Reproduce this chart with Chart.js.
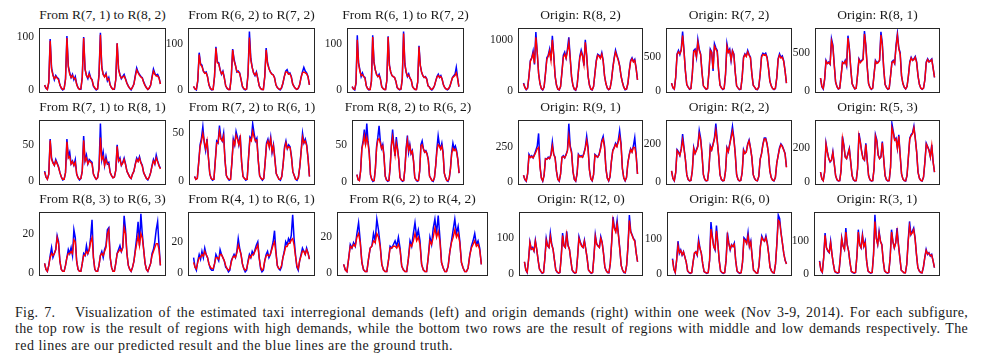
<!DOCTYPE html>
<html>
<head>
<meta charset="utf-8">
<script src="https://cdn.jsdelivr.net/npm/chart.js@4.4.1/dist/chart.umd.min.js"></script>
<style>
  body { margin: 0; background: #fff; width: 982px; height: 359px; position: relative; overflow: hidden; font-family: "Liberation Serif", "Times New Roman", serif; color: #1a1a1a; }
  .panel { position: absolute; }
  .ttl { position: absolute; font-size: 13.5px; line-height: 14px; text-align: center; white-space: nowrap; }
  .cap { position: absolute; left: 15px; width: 953px; font-size: 14px; letter-spacing: 0.5px; line-height: 17px; white-space: nowrap; }
  .cap.j { white-space: normal; text-align: justify; text-align-last: justify; letter-spacing: 0.3px; }
</style>
</head>
<body>
<div class="cap j" style="top:303.5px">Fig. 7.&emsp; Visualization of the estimated taxi interregional demands (left) and origin demands (right) within one week (Nov 3-9, 2014). For each subfigure,</div>
<div class="cap j" style="top:320px">the top row is the result of regions with high demands, while the bottom two rows are the result of regions with middle and low demands respectively. The</div>
<div class="cap" style="top:336.5px">red lines are our predicted result and the blue lines are the ground truth.</div>

<script>
// one week, Nov 3-9 2014, sampled every 2 hours (12 values per day)
const titles = [
  'From R(7, 1) to R(8, 2)', 'From R(6, 2) to R(7, 2)', 'From R(6, 1) to R(7, 2)',
  'Origin: R(8, 2)', 'Origin: R(7, 2)', 'Origin: R(8, 1)',
  'From R(7, 1) to R(8, 1)', 'From R(7, 2) to R(6, 1)', 'From R(8, 2) to R(6, 2)',
  'Origin: R(9, 1)', 'Origin: R(2, 2)', 'Origin: R(5, 3)',
  'From R(8, 3) to R(6, 3)', 'From R(4, 1) to R(6, 1)', 'From R(6, 2) to R(4, 2)',
  'Origin: R(12, 0)', 'Origin: R(6, 0)', 'Origin: R(3, 1)'
];

const yTicks = [
  [0, 100], [0, 100], [0, 100], [0, 1000], [0, 500], [0, 500],
  [0, 50], [0, 50], [0, 50], [0, 250], [0, 200], [0, 200],
  [0, 20], [0, 20], [0, 20], [0, 100], [0, 100], [0, 100]
];
const yMin = [-5, -6, -6, -36, -27, -24, -5, -4, -4, -20, -14, -16, -1.4, -1.7, -1.5, -5, -5, -6];
const yMax = [117, 136, 136, 1232, 932, 821, 84, 64, 83, 447, 324, 367, 31, 38.9, 34, 174, 179, 189];

// ground truth (blue) and predicted (red)
const truthA = [10,4,2,14,96,42,30,20,28,24,22,10, 4,1,3,22,102,46,33,24,30,20,26,12, 5,2,2,25,100,40,28,22,33,24,20,8, 4,1,3,30,108,44,30,26,32,18,24,10, 5,2,2,20,88,40,30,22,26,30,22,14, 8,4,1,6,12,28,42,34,30,26,24,16, 10,5,2,4,10,26,40,32,28,30,24,12];
const predA  = [10,5,2,16,93,40,28,22,26,23,20,10, 5,2,3,20,98,44,30,24,28,22,23,11, 5,2,3,24,98,40,28,24,30,23,20,9, 5,2,3,28,104,42,30,25,30,20,22,10, 5,2,3,20,88,40,28,23,25,27,21,13, 8,4,2,6,12,26,38,33,28,25,23,15, 9,5,2,5,10,24,36,30,27,27,23,12];

const truthB = [8,3,1,20,82,58,55,42,38,40,30,12, 4,1,2,30,95,62,60,45,35,42,28,10, 4,2,2,28,90,68,55,40,42,38,24,8, 3,1,3,35,128,70,50,38,32,40,26,10, 4,2,2,30,92,60,48,40,36,34,28,12, 6,3,1,5,15,30,42,45,36,38,30,14, 8,4,2,4,12,28,40,50,42,38,30,12];
const predB  = [9,3,2,22,78,56,52,42,37,38,29,12, 5,2,2,30,92,60,58,44,36,40,27,10, 5,2,2,28,88,64,54,41,40,37,24,9, 4,2,3,34,115,66,50,38,33,38,26,10, 4,2,2,30,88,58,47,40,35,34,27,12, 6,3,2,6,16,30,40,40,35,36,29,14, 8,4,2,5,12,28,38,40,38,36,29,12];

const truthC = [8,3,1,15,120,60,45,30,38,30,28,10, 4,1,2,20,120,62,45,35,30,35,25,8, 4,2,2,22,118,55,40,32,30,28,20,6, 3,1,3,25,128,58,40,30,36,26,22,8, 4,2,2,18,97,55,40,32,28,30,25,10, 8,3,1,4,10,20,30,35,28,32,24,12, 6,3,1,3,8,18,28,32,35,50,28,8];
const predC  = [8,3,2,16,110,58,42,32,34,30,26,10, 4,2,2,20,116,60,44,34,30,32,24,8, 4,2,2,22,116,54,40,32,30,28,20,7, 3,2,3,26,124,56,40,31,33,27,22,8, 4,2,2,18,95,54,40,32,28,29,24,10, 7,3,2,5,10,20,29,32,28,30,24,12, 6,3,2,4,9,18,27,30,32,38,26,8];

const truthD = [160,80,30,60,300,600,650,780,520,1150,750,350, 150,50,25,80,350,650,700,820,600,1080,720,300, 120,40,25,90,380,700,760,650,820,1050,650,280, 110,40,20,100,400,680,800,700,500,1000,700,300, 120,40,25,90,350,600,720,700,650,750,600,300, 150,60,30,50,200,450,650,800,700,620,500,300, 180,80,30,40,150,400,600,650,580,620,450,220];
const predD  = [150,70,35,70,300,580,640,740,540,1050,760,340, 150,55,30,85,340,620,680,780,600,1000,700,300, 120,45,30,95,370,660,720,640,780,950,640,280, 110,45,25,100,390,650,760,680,520,950,690,300, 120,45,30,90,340,580,700,680,640,720,590,300, 150,65,35,55,200,440,630,760,680,600,490,300, 170,80,35,45,150,390,580,630,570,600,440,220];

const truthE = [120,50,30,200,550,600,540,620,880,600,300,100, 60,30,40,250,600,620,500,760,620,550,280,80, 50,30,40,280,620,580,300,700,640,600,300,90, 50,25,40,250,700,580,620,450,600,550,280,80, 50,25,30,200,500,550,520,600,540,500,260,90, 60,30,25,60,250,520,560,540,560,500,350,150, 80,40,25,40,200,480,550,500,520,450,300,120];
const predE  = [120,55,35,210,540,580,550,600,820,590,300,100, 60,35,40,250,580,600,510,720,600,540,280,80, 55,30,40,270,600,570,330,660,620,580,300,90, 50,30,40,250,660,570,600,460,590,540,280,80, 50,28,32,200,490,540,510,580,530,490,260,90, 60,32,28,65,250,500,540,530,540,490,340,150, 80,40,28,45,200,470,530,490,500,440,300,120];

const truthF = [170,60,30,150,400,360,380,350,680,600,350,120, 60,30,40,200,380,360,400,330,720,560,300,100, 60,30,40,220,420,380,400,420,780,600,320,100, 50,25,40,220,400,370,380,400,770,620,300,90, 50,25,35,200,380,400,360,600,750,560,500,200, 100,50,30,60,200,380,440,400,420,450,380,200, 90,40,25,40,150,380,420,380,400,420,300,180];
const predF  = [170,65,35,160,390,360,370,350,650,580,340,120, 60,32,40,200,370,360,390,340,690,550,300,100, 60,32,40,210,410,370,390,410,740,590,320,100, 50,28,40,215,390,360,370,400,730,600,300,90, 50,28,36,200,370,390,360,580,720,550,480,200, 100,52,32,60,200,370,430,400,410,440,370,200, 90,42,28,42,150,370,410,380,390,410,300,180];

const truthG = [14,6,3,10,58,32,26,22,30,25,20,12, 6,2,3,12,58,34,40,24,28,22,30,10, 5,2,4,14,62,28,36,24,30,28,26,10, 6,3,5,18,79,30,40,22,34,24,26,12, 8,5,6,15,50,28,32,22,26,32,24,14, 10,6,4,10,14,24,32,28,34,26,22,12, 8,4,2,6,12,22,30,24,36,28,22,18];
const predG  = [13,6,3,10,56,30,25,22,28,24,19,12, 6,3,3,12,54,32,34,24,27,22,26,10, 5,3,4,14,56,28,32,24,28,26,24,10, 6,3,5,17,60,30,34,22,30,24,24,12, 8,5,6,15,48,28,30,22,25,30,23,14, 10,6,4,10,14,23,30,27,32,25,21,12, 8,4,3,6,12,21,28,24,32,27,21,17];

const truthH = [5,2,3,20,38,45,57,40,32,44,25,8, 3,1,2,22,42,40,58,45,42,50,22,6, 3,1,2,20,44,38,52,46,38,48,20,5, 3,1,2,25,46,44,60,50,42,45,22,6, 3,1,3,20,40,44,36,46,30,38,24,8, 5,2,1,5,18,36,42,34,38,36,26,10, 6,2,1,4,15,32,50,40,44,38,24,5];
const predH  = [5,2,3,19,36,42,50,42,34,42,25,8, 3,2,2,21,40,40,52,44,42,47,22,6, 3,2,2,20,42,38,48,44,38,45,20,5, 3,2,2,24,44,42,52,46,42,43,22,6, 3,2,3,20,38,42,36,44,31,37,23,8, 5,2,2,5,18,34,40,34,36,35,25,10, 6,2,2,4,15,31,46,40,42,37,23,5];

const truthI = [10,3,2,15,45,55,70,50,78,55,40,10, 4,1,2,18,48,60,75,55,45,50,35,8, 3,1,2,20,50,70,48,35,60,45,30,6, 3,1,2,18,45,62,40,50,38,42,28,6, 3,1,2,15,50,55,45,40,42,38,30,8, 5,2,1,6,22,45,62,50,45,52,40,12, 6,2,1,5,18,40,52,44,48,42,30,12];
const predI  = [10,3,2,15,44,52,62,50,60,52,38,10, 4,2,2,18,46,56,58,52,45,48,34,8, 3,2,2,20,48,60,48,36,52,44,30,6, 3,2,2,18,44,56,42,48,38,41,28,6, 3,2,2,15,48,50,44,40,41,37,29,8, 5,2,2,6,22,42,50,48,44,48,38,12, 6,2,2,5,18,38,45,42,44,40,30,12];

const truthJ = [50,20,8,60,200,180,190,175,200,230,260,350, 120,30,8,50,170,165,180,170,200,290,200,180, 80,20,8,60,180,190,175,200,230,420,260,220, 80,20,8,60,200,185,190,180,210,250,330,250, 90,25,10,55,200,190,180,200,240,300,330,260, 100,30,10,40,150,230,250,280,260,300,370,280, 100,30,10,35,140,200,240,220,260,320,200,60];
const predJ  = [50,22,10,62,190,178,185,175,195,215,240,250, 110,32,10,52,168,165,175,170,195,260,200,175, 80,22,10,60,178,185,175,195,225,330,250,210, 80,22,10,60,195,182,185,180,205,245,300,240, 88,26,12,55,195,185,180,195,235,290,310,250, 98,30,12,42,150,225,245,270,255,290,330,270, 98,32,12,36,140,195,235,215,250,250,195,60];

const truthK = [60,20,8,50,170,160,140,175,250,180,120,40, 15,8,10,60,180,150,170,190,270,230,150,40, 15,8,10,70,190,170,200,230,305,220,140,40, 15,8,10,60,180,160,200,240,290,230,150,40, 15,8,10,50,170,150,160,200,220,180,130,40, 20,10,8,30,120,150,200,230,230,200,150,60, 25,12,8,25,100,140,180,200,190,170,150,80];
const predK  = [60,22,10,52,165,155,140,170,220,175,120,40, 16,9,10,60,175,150,165,185,250,220,145,40, 16,9,10,68,185,168,195,225,270,215,140,40, 16,9,10,60,178,160,195,230,265,225,148,40, 16,9,10,50,165,150,158,195,215,178,130,40, 20,10,9,32,120,148,195,225,225,198,148,60, 25,12,9,26,100,138,175,195,185,168,148,78];

const truthL = [60,20,10,60,230,180,140,120,130,180,110,40, 15,8,10,70,270,220,150,140,170,200,120,40, 15,8,10,80,290,240,180,140,130,230,130,40, 15,8,10,80,280,250,160,140,150,240,140,40, 15,8,10,90,346,300,250,260,200,280,160,50, 20,10,8,40,150,260,280,290,330,260,180,60, 25,12,8,30,120,230,210,190,150,220,120,60];
const predL  = [60,22,10,62,225,178,140,122,130,175,110,40, 16,9,10,70,260,215,150,140,165,195,120,40, 16,9,10,80,275,235,178,140,132,222,130,40, 16,9,10,80,270,240,160,140,150,232,140,40, 16,9,10,88,320,290,248,255,200,270,158,50, 20,10,9,42,150,255,275,285,320,258,178,60, 25,12,9,32,120,225,208,188,150,215,120,60];

const truthM = [5,2,1,4,9,13,8,10,12,19,16,6, 2,1,1,4,8,12,10,13,9,22,18,6, 2,1,1,5,10,9,14,10,12,18,27,8, 2,1,1,4,9,11,8,12,14,22,23,8, 3,1,1,5,10,12,14,11,13,29,22,10, 4,2,1,3,6,12,18,26,14,30,20,12, 5,2,1,3,5,10,12,16,22,26,14,4];
const predM  = [5,2,1,4,8,10,9,10,12,18,15,6, 2,1,1,4,8,10,10,11,10,17,16,6, 2,1,1,5,9,9,11,10,12,16,18,8, 2,1,1,4,9,10,9,11,13,20,22,8, 3,1,1,5,10,11,12,11,13,23,20,10, 4,2,1,3,6,11,15,19,14,20,18,12, 5,2,1,3,5,9,11,13,15,15,12,4];

const truthN = [10,4,2,8,12,9,14,10,16,12,10,6, 3,2,2,6,12,10,8,15,12,10,8,4, 3,1,2,8,10,12,10,14,22,16,12,6, 3,1,2,8,12,10,14,12,15,18,20,10, 3,1,2,8,12,14,10,12,16,20,27,14, 5,3,2,4,10,14,20,18,22,20,24,37, 22,12,4,2,8,12,16,14,12,16,13,9];
const predN  = [7,4,3,7,10,10,12,11,14,12,10,6, 4,3,3,6,10,10,9,12,12,10,8,5, 3,2,3,7,10,11,10,13,18,15,12,6, 3,2,3,7,11,10,12,12,14,16,18,10, 4,2,3,8,11,12,11,12,15,18,20,13, 5,3,3,5,10,13,17,17,19,19,21,22, 18,11,5,3,8,11,14,14,12,15,13,9];

const truthO = [5,2,1,8,16,14,17,15,22,28,18,6, 2,1,1,8,14,15,22,18,30,24,16,5, 2,1,1,7,15,14,16,18,15,20,14,4, 2,1,1,8,18,15,22,28,20,24,18,5, 2,1,1,9,20,16,25,30,22,32,20,6, 3,1,1,4,12,18,24,30,22,26,18,6, 3,1,1,3,10,15,18,22,16,18,14,5];
const predO  = [5,2,1,8,15,14,16,15,20,22,17,6, 2,1,1,8,14,15,18,17,22,20,15,5, 2,1,1,7,14,14,15,15,14,16,13,4, 2,1,1,8,16,15,18,22,18,20,16,5, 2,1,1,9,18,16,20,25,20,23,18,6, 3,1,1,4,12,17,20,24,20,22,17,6, 3,1,1,3,10,14,16,18,15,16,13,5];

const truthP = [35,12,5,40,90,70,75,65,95,70,40,15, 8,3,5,45,100,80,75,115,85,70,40,12, 6,3,5,50,115,80,75,120,80,70,40,12, 6,3,5,50,105,90,80,75,95,70,45,12, 7,3,5,50,110,85,80,75,105,90,60,20, 10,5,4,30,90,160,130,120,150,110,70,25, 12,5,4,25,80,165,120,110,100,95,60,35];
const predP  = [35,13,6,40,88,70,72,65,92,70,40,15, 8,4,5,45,95,80,75,105,82,70,40,12, 7,4,5,48,108,80,75,110,80,70,40,12, 7,4,5,48,100,88,78,75,92,70,45,12, 7,4,5,48,105,84,78,75,100,88,58,20, 10,5,5,30,88,150,128,118,140,108,68,25, 12,6,5,26,80,150,118,108,98,92,60,35];

const truthQ = [45,15,5,40,95,60,70,55,65,50,35,10, 5,3,5,35,60,65,55,100,75,60,30,8, 5,3,5,40,150,110,80,70,140,90,40,10, 5,3,5,40,120,90,70,85,80,90,40,10, 5,3,5,35,105,100,90,120,80,95,50,12, 8,4,4,25,80,110,100,95,110,90,60,20, 10,5,4,30,90,170,160,120,90,60,40,30];
const predQ  = [42,15,6,40,82,62,68,56,64,50,35,10, 6,4,5,36,62,64,56,92,74,60,30,8, 6,4,5,40,130,105,80,72,125,88,40,10, 6,4,5,40,110,88,72,84,80,86,40,10, 6,4,5,36,100,96,88,110,80,92,50,12, 8,4,4,26,80,105,98,95,105,88,58,20, 10,5,4,30,88,155,150,118,90,60,40,30];

const truthR = [40,12,5,50,125,80,70,65,100,60,30,8, 5,3,5,50,110,85,75,140,90,70,35,8, 5,3,5,55,135,90,80,120,85,100,40,10, 5,3,5,60,180,110,90,130,100,90,40,10, 5,3,5,50,135,100,80,95,140,90,50,12, 8,4,4,30,100,160,120,130,140,110,60,20, 10,5,4,20,50,75,60,65,55,60,40,20];
const predR  = [38,12,6,50,118,80,72,66,95,60,30,8, 6,4,5,50,108,85,75,128,88,70,35,8, 6,4,5,54,128,88,80,115,85,95,40,10, 6,4,5,58,160,108,90,125,100,88,40,10, 6,4,5,50,128,98,80,95,128,88,50,12, 8,4,4,30,98,145,120,125,135,108,60,20, 10,5,4,22,50,72,62,64,56,58,40,20];

const truthSeries = [truthA, truthB, truthC, truthD, truthE, truthF, truthG, truthH, truthI, truthJ, truthK, truthL, truthM, truthN, truthO, truthP, truthQ, truthR];
const predSeries  = [predA, predB, predC, predD, predE, predF, predG, predH, predI, predJ, predK, predL, predM, predN, predO, predP, predQ, predR];

// plot boxes [left, top, width, height] in page pixels
const boxes = [
  [39, 25, 127, 71], [188, 25, 127, 71], [347, 25, 117, 71], [518, 25, 125, 71], [666, 25, 126, 71], [815, 25, 125, 71],
  [39, 117, 127, 71], [189, 117, 126, 71], [352, 117, 112, 71], [518, 117, 125, 71], [666, 117, 126, 71], [815, 117, 125, 71],
  [39, 209, 127, 70], [188, 209, 127, 70], [337, 209, 151, 70], [519, 209, 124, 70], [667, 209, 125, 70], [814, 209, 126, 70]
];
const titleY = [8, 100, 192];

const frame = {
  id: 'frame',
  afterDraw(chart) {
    const a = chart.chartArea, ctx = chart.ctx;
    ctx.save();
    ctx.strokeStyle = '#262626';
    ctx.lineWidth = 1;
    ctx.strokeRect(Math.round(a.left) + 0.5, Math.round(a.top) + 0.5, Math.round(a.width) - 1, Math.round(a.height) - 1);
    ctx.restore();
  }
};

const padL = 40, padR = 4, padV = 6;

truthSeries.forEach((truth, i) => {
  const [bx, by, bw, bh] = boxes[i];

  const t = document.createElement('div');
  t.className = 'ttl';
  t.textContent = titles[i];
  t.style.left = (bx - 40) + 'px';
  t.style.width = (bw + 80) + 'px';
  t.style.top = titleY[Math.floor(i / 6)] + 'px';
  document.body.appendChild(t);

  const wrap = document.createElement('div');
  wrap.className = 'panel';
  wrap.style.left = (bx - padL) + 'px';
  wrap.style.top = (by - padV) + 'px';
  const cv = document.createElement('canvas');
  cv.width = bw + padL + padR;
  cv.height = bh + 2 * padV;
  wrap.appendChild(cv);
  document.body.appendChild(wrap);

  const toPts = (arr) => arr.map((v, k) => ({ x: k * 2, y: v }));
  const ticks = yTicks[i];

  new Chart(cv, {
    type: 'line',
    data: {
      datasets: [
        { label: 'Predicted', data: toPts(predSeries[i]), borderColor: '#ff0000', borderWidth: 1.4, pointRadius: 0, tension: 0 },
        { label: 'Ground truth', data: toPts(truth), borderColor: '#0000ff', borderWidth: 1.5, pointRadius: 0, tension: 0 }
      ]
    },
    options: {
      responsive: false,
      animation: false,
      devicePixelRatio: 1,
      layout: { padding: { left: 0, right: padR, top: padV, bottom: padV } },
      plugins: { legend: { display: false }, tooltip: { enabled: false } },
      scales: {
        x: { type: 'linear', display: false, min: -8, max: 174 },
        y: {
          min: yMin[i], max: yMax[i],
          afterFit: (s) => { s.width = padL; },
          afterBuildTicks: (s) => { s.ticks = ticks.map(v => ({ value: v })); },
          grid: { display: true, drawOnChartArea: false, tickLength: 3, color: 'rgba(0,0,0,0)' },
          border: { display: false },
          ticks: { font: { family: 'Liberation Serif', size: 11.5 }, color: '#1a1a1a', padding: 2, callback: (v) => String(v) }
        }
      }
    },
    plugins: [frame]
  });
});
</script>
</body>
</html>
